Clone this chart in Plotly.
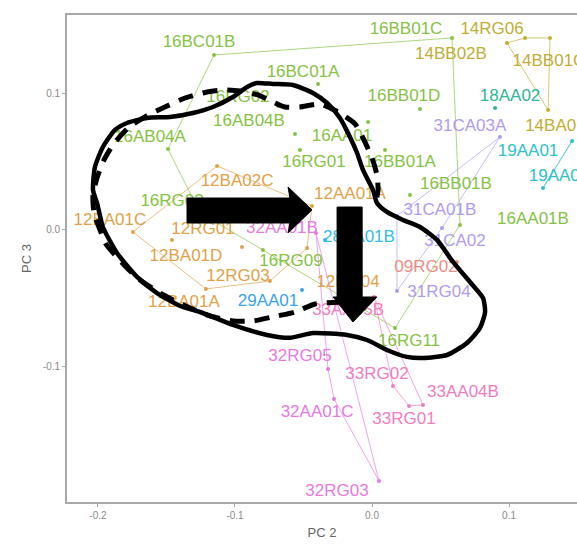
import plotly.graph_objects as go

# ---------------- data ----------------
names = ["16BC01B", "16BC01A", "16RG02", "16AB04B", "16AB04A", "16AA01", "16RG01", "16BB01A",
         "16BB01D", "16BB01B", "16BB01C", "16AA01B", "16RG11", "16RG09", "16RG03",
         "12BA02C", "12AA01A", "12BA01C", "12RG01", "12BA01D", "12RG03", "12BA01A", "12RG04",
         "14RG06", "14BB02B", "14BB01C", "14BA01A",
         "18AA02", "19AA01", "19AA02", "28AA01B", "29AA01",
         "31CA03A", "31CA01B", "31CA02", "31RG04", "09RG02",
         "32AA01B", "32RG05", "32AA01C", "32RG03",
         "33AA05B", "33RG02", "33RG01", "33AA04B"]
groups = ["16"] * 15 + ["12"] * 8 + ["14"] * 4 + ["18", "19", "19", "28", "29",
          "31", "31", "31", "31", "09", "32", "32", "32", "32", "33", "33", "33", "33"]
pc2 = [-0.1153, -0.0394, -0.0686, -0.0562, -0.1489, -0.0029, -0.0526, 0.0095,
       0.0350, 0.0277, 0.0584, 0.0642, 0.0168, -0.0796, -0.1255,
       -0.1131, -0.0438, -0.1745, -0.1460, -0.0949, -0.0745, -0.1212, -0.0474,
       0.1117, 0.0985, 0.1299, 0.1285,
       0.0898, 0.1460, 0.1248, -0.0343, -0.0511,
       0.0934, 0.0182, 0.0511, 0.0182, 0.0620,
       -0.0409, -0.0321, -0.0277, 0.0051,
       0.0015, 0.0153, 0.0270, 0.0372]
pc3 = [0.1282, 0.1070, 0.0908, 0.0703, 0.0593, 0.0791, 0.0586, 0.0586,
       0.0886, 0.0256, 0.1407, 0.0037, -0.0718, -0.0147, 0.0125,
       0.0469, 0.0176, -0.0015, -0.0073, -0.0125, -0.0374, -0.0432, -0.0132,
       0.1407, 0.1370, 0.1407, 0.0879,
       0.0894, 0.0652, 0.0308, -0.0073, -0.0440,
       0.0681, 0.0103, 0.0015, -0.0447, -0.0234,
       -0.0022, -0.1018, -0.1238, -0.1839,
       -0.0491, -0.1143, -0.1289, -0.1282]

x_ticks = [-0.2, -0.1, 0.0, 0.1]
y_ticks = [-0.1, 0.0, 0.1]

# label offsets from their point, in screen pixels (right, up) - styling only
label_dx = [-15, -15, -40, -46, -18, -26, 14, 15, -16, 46, -46, 73, 14, 28, -28,
            20, 38, -23, 31, -56, -32, -22, 41,
            -33, -56, -1, 13,
            15, -44, 16, 34, -34,
            -30, 43, 13, 42, -31,
            -34, -28, -17, -42,
            -26, -16, -5, 40]
label_dy = [12, 11, 8, 12, 11, -15, -13, -13, 12, 10, 8, 5, -14, -12, 11,
            -16, 11, 11, 10, -10, 4, -14, -35,
            8, -12, -24, -17,
            11, -11, 11, 2, -12,
            10, 5, -14, -2, -6,
            4, 12, -14, -11,
            -14, 11, -14, 12]

colors = {"09": "#EE8C84", "12": "#DFA249", "14": "#C0AE36", "16": "#86C244",
          "18": "#2FB597", "19": "#2EC1C9", "28": "#30BEE2", "29": "#38A4EE",
          "31": "#B09CEC", "32": "#E57ADF", "33": "#F07CBF"}

# hand-drawn overlay (annotation geometry, data units)
solid_x = [-0.2036, -0.2022, -0.1964, -0.1876, -0.1788, -0.1642, -0.1474, -0.1307, -0.1161,
           -0.1015, -0.0912, -0.0839, -0.0723, -0.0577, -0.0431, -0.0328, -0.0234, -0.0161,
           -0.0109, -0.0066, 0.0007, 0.0036, 0.0109, 0.0226, 0.0350, 0.0474, 0.0591, 0.0715,
           0.0810, 0.0825, 0.0788, 0.0693, 0.0547, 0.0372, 0.0255, 0.0109, -0.0036, -0.0182,
           -0.0431, -0.0599, -0.0766, -0.1015, -0.1255, -0.1401, -0.1569, -0.1715, -0.1861,
           -0.1964, -0.2007, -0.2036]
solid_y = [0.0293, 0.0462, 0.0608, 0.0733, 0.0784, 0.0821, 0.0828, 0.0857, 0.0901,
           0.0974, 0.1048, 0.1077, 0.1070, 0.1062, 0.1004, 0.0930, 0.0821, 0.0681,
           0.0564, 0.0440, 0.0293, 0.0198, 0.0132, 0.0073, 0.0022, -0.0073, -0.0234, -0.0381,
           -0.0498, -0.0601, -0.0718, -0.0828, -0.0916, -0.0938, -0.0930, -0.0879, -0.0806, -0.0769,
           -0.0755, -0.0790, -0.0769, -0.0696, -0.0601, -0.0557, -0.0462, -0.0344, -0.0168,
           0.0022, 0.0198, 0.0293]
dash_x = [-0.0219, -0.0416, -0.0562, -0.0693, -0.0869, -0.1015, -0.1182, -0.1292, -0.1423,
          -0.1547, -0.1693, -0.1788, -0.1876, -0.1942, -0.1985, -0.2029, -0.2036, -0.2007,
          -0.1956, -0.1891, -0.1781, -0.1635, -0.1496, -0.1365, -0.1204, -0.1088, -0.0964,
          -0.0832, -0.0723, -0.0635, -0.0526, -0.0380, -0.0248, -0.0124, -0.0066, 0.0000,
          0.0036, 0.0044, 0.0022]
dash_y = [-0.0527, -0.0542, -0.0601, -0.0630, -0.0667, -0.0667, -0.0630, -0.0586, -0.0527,
          -0.0462, -0.0366, -0.0278, -0.0183, -0.0103, 0.0000, 0.0125, 0.0256, 0.0381,
          0.0513, 0.0623, 0.0747, 0.0842, 0.0908, 0.0967, 0.1011, 0.1026, 0.1018,
          0.0989, 0.0938, 0.0901, 0.0901, 0.0923, 0.0864, 0.0777, 0.0674, 0.0527,
          0.0403, 0.0293, 0.0183]
arrow_right_x = [-0.1350, -0.0599, -0.0599, -0.0613, -0.0438, -0.0613, -0.0599, -0.0599, -0.1350, -0.1350]
arrow_right_y = [0.0234, 0.0234, 0.0234, 0.0315, 0.0147, -0.0022, 0.0051, 0.0051, 0.0051, 0.0234]
arrow_down_x = [-0.0255, -0.0072, -0.0072, 0.0036, -0.0139, -0.0284, -0.0255, -0.0255]
arrow_down_y = [0.0168, 0.0168, -0.0491, -0.0491, -0.0674, -0.0491, -0.0491, 0.0168]

# ---------------- layout geometry ----------------
W, H = 577, 547
ML, MR, MT, MB = 67, 0, 15, 45
x_range = [-0.2226, 0.1496]
y_range = [-0.1993, 0.1575]
px_x = (x_range[1] - x_range[0]) / (W - ML - MR)
px_y = (y_range[1] - y_range[0]) / (H - MT - MB)


def hull(pts):
    pts = sorted(set(pts))
    if len(pts) <= 2:
        return pts

    def cross(o, a, b):
        return (a[0] - o[0]) * (b[1] - o[1]) - (a[1] - o[1]) * (b[0] - o[0])
    lower, upper = [], []
    for p in pts:
        while len(lower) >= 2 and cross(lower[-2], lower[-1], p) <= 0:
            lower.pop()
        lower.append(p)
    for p in reversed(pts):
        while len(upper) >= 2 and cross(upper[-2], upper[-1], p) <= 0:
            upper.pop()
        upper.append(p)
    return lower[:-1] + upper[:-1]


fig = go.Figure()
group_order = ["09", "12", "14", "16", "18", "19", "28", "29", "31", "32", "33"]

# hulls
for g in group_order:
    pts = [(x, y) for x, y, gg in zip(pc2, pc3, groups) if gg == g]
    h = hull(pts)
    if len(h) < 2:
        continue
    hx = [p[0] for p in h] + [h[0][0]]
    hy = [p[1] for p in h] + [h[0][1]]
    fig.add_trace(go.Scatter(x=hx, y=hy, mode="lines", line=dict(color=colors[g], width=0.9),
                             opacity=0.75, hoverinfo="skip", showlegend=False))

# points
for g in group_order:
    idx = [i for i, gg in enumerate(groups) if gg == g]
    fig.add_trace(go.Scatter(x=[pc2[i] for i in idx], y=[pc3[i] for i in idx], mode="markers",
                             marker=dict(color=colors[g], size=4), showlegend=False))

# labels
for g in group_order:
    idx = [i for i, gg in enumerate(groups) if gg == g]
    fig.add_trace(go.Scatter(
        x=[pc2[i] + label_dx[i] * px_x for i in idx],
        y=[pc3[i] + label_dy[i] * px_y for i in idx],
        text=[names[i] for i in idx], mode="text", textposition="middle center",
        textfont=dict(color=colors[g], size=17, family="Liberation Sans, Arial, sans-serif"),
        cliponaxis=False, showlegend=False))

# hand-drawn overlay
fig.add_trace(go.Scatter(x=solid_x, y=solid_y, mode="lines",
                         line=dict(color="black", width=4.5, shape="spline", smoothing=0.6),
                         showlegend=False, hoverinfo="skip"))
fig.add_trace(go.Scatter(x=dash_x, y=dash_y, mode="lines",
                         line=dict(color="black", width=5, shape="spline", smoothing=0.6,
                                   dash="15px,10px"),
                         showlegend=False, hoverinfo="skip"))
for ax_, ay_ in [(arrow_right_x, arrow_right_y), (arrow_down_x, arrow_down_y)]:
    fig.add_trace(go.Scatter(x=ax_, y=ay_, mode="lines", fill="toself", fillcolor="black",
                             line=dict(color="black", width=1), showlegend=False, hoverinfo="skip"))

fig.update_layout(
    width=W, height=H, margin=dict(l=ML, r=MR, t=MT, b=MB),
    paper_bgcolor="white", plot_bgcolor="white",
    font=dict(family="Liberation Sans, Arial, sans-serif"),
    xaxis=dict(range=x_range, tickvals=x_ticks, ticktext=[f"{v:.1f}" for v in x_ticks],
               showgrid=False, zeroline=False, showline=True, mirror=True,
               linecolor="#A8A8A8", linewidth=1.6, ticks="outside", ticklen=3,
               tickcolor="#A8A8A8", tickfont=dict(size=10, color="#8A8A8A"),
               title=dict(text="PC 2", font=dict(size=13, color="#666666"), standoff=8)),
    yaxis=dict(range=y_range, tickvals=y_ticks, ticktext=[f"{v:.1f}" for v in y_ticks],
               showgrid=False, zeroline=False, showline=True, mirror=False,
               linecolor="#A8A8A8", linewidth=1.6, ticks="outside", ticklen=3,
               tickcolor="#A8A8A8", tickfont=dict(size=10, color="#8A8A8A"),
               title=dict(text="PC 3", font=dict(size=13, color="#666666"), standoff=8)),
)

fig.write_html("out.html")
